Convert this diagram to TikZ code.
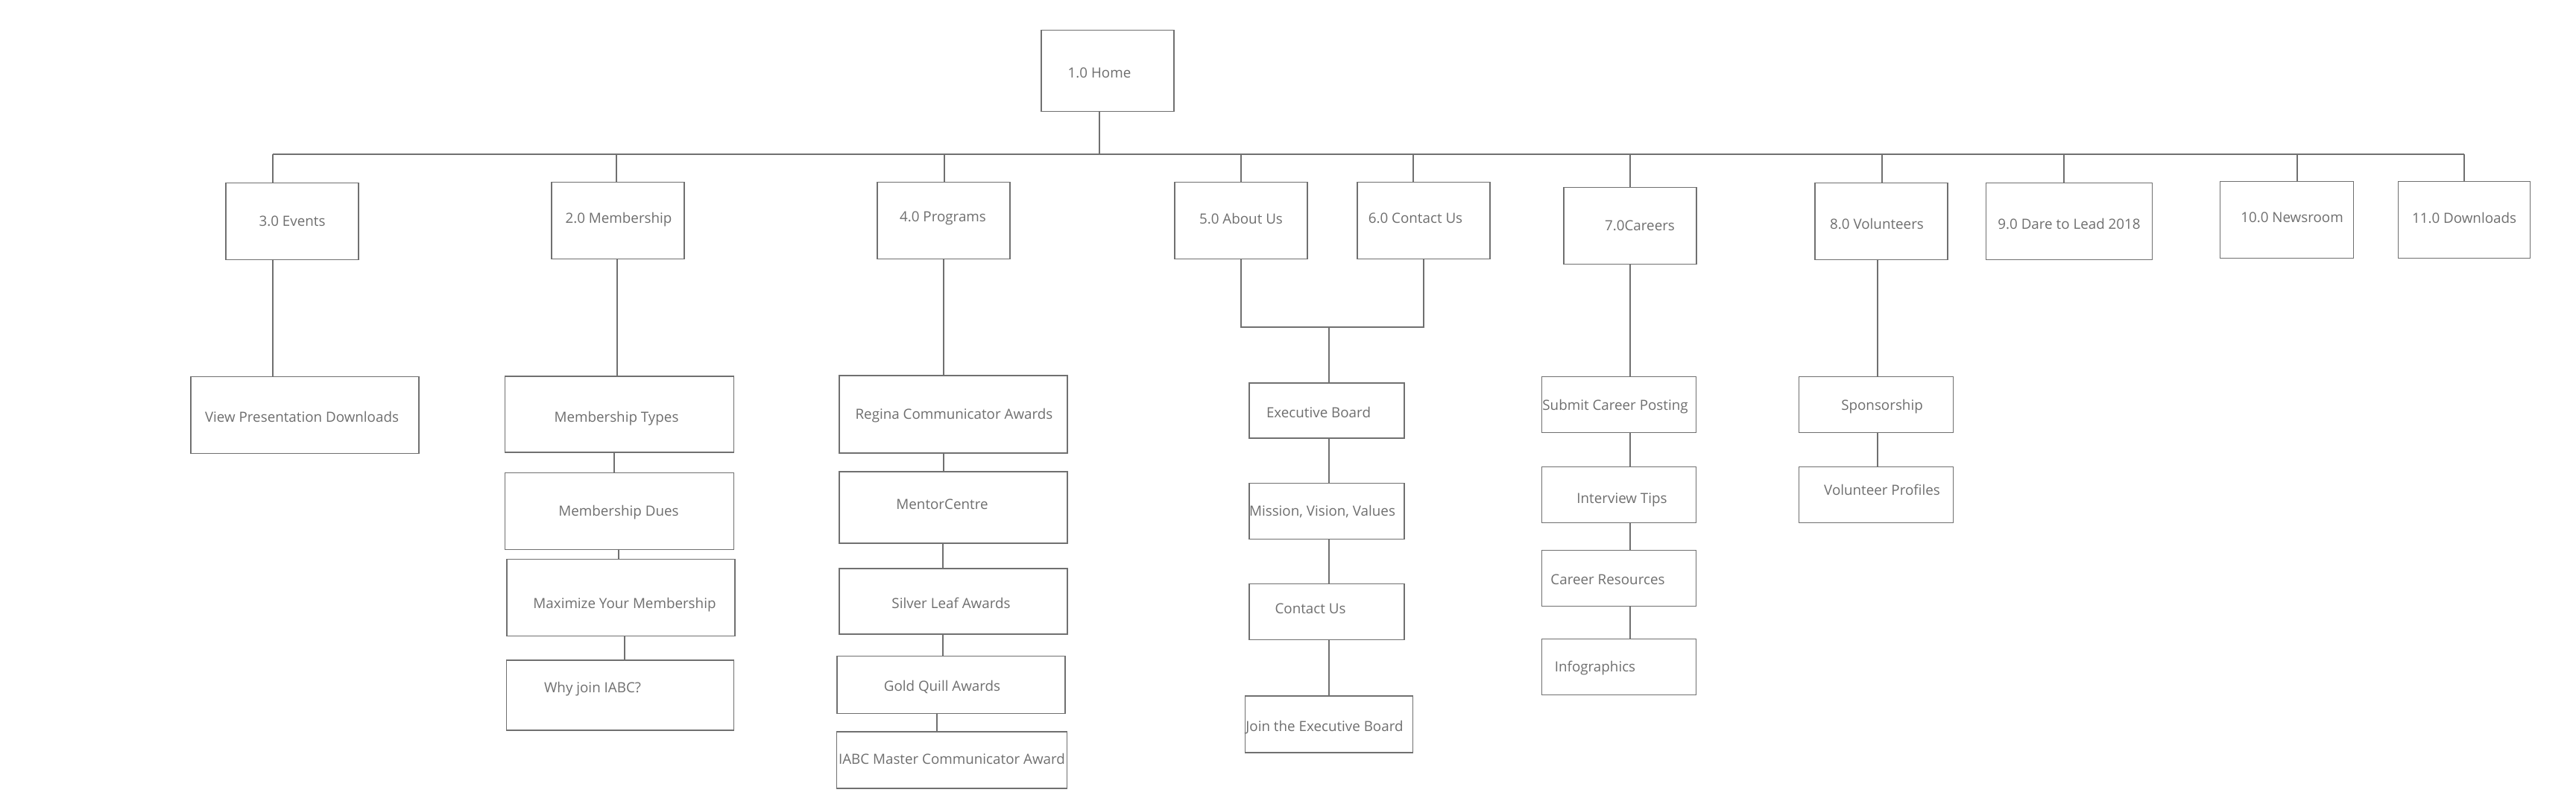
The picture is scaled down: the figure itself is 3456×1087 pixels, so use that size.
\documentclass[tikz,border=0pt]{standalone}
\usepackage{fontspec}
\setmainfont{Open Sans}
\usepackage{tikz}

\definecolor{boxline}{HTML}{707070}
\definecolor{boxtext}{HTML}{6E6E6E}

\tikzset{
  page/.style 2 args={draw=boxline, line width=0.65pt, inner sep=0pt, minimum width=#1, minimum height=#2},
  lbl/.style={text=boxtext, font=\fontsize{10.7pt}{12pt}\selectfont, inner sep=0pt},
  link/.style={draw=boxline, line width=0.65pt}
}

\begin{document}
\begin{tikzpicture}[x=0.02cm, y=-0.02cm]

   \useasboundingbox (0,0) rectangle (3456,1087);

   % top level
   \node[page={3.56cm}{2.18cm}, label={[lbl,shift={(-11,3)}]center:1.0 Home}] (home) at (1486,95) {};

   \node[page={3.56cm}{2.06cm}, label={[lbl]center:3.0 Events}] (events) at (392,297) {};
   \node[page={3.56cm}{2.06cm}, label={[lbl,shift={(1,-1)}]center:2.0 Membership}] (member) at (829,296) {};
   \node[page={3.56cm}{2.06cm}, label={[lbl,shift={(-1,-3)}]center:4.0 Programs}] (programs) at (1266,296) {};
   \node[page={3.56cm}{2.06cm}, label={[lbl,shift={(0,-3)}]center:5.0 About Us}] (about) at (1665,296) {};
   \node[page={3.56cm}{2.06cm}, label={[lbl,shift={(-11,-3)}]center:6.0 Contact Us}] (contact) at (1910,296) {};
   \node[page={3.56cm}{2.06cm}, label={[lbl,shift={(13,0)}]center:7.0Careers}] (careers) at (2187,303) {};
   \node[page={3.56cm}{2.06cm}, label={[lbl,shift={(-6,3)}]center:8.0 Volunteers}] (volunteers) at (2524,297) {};
   \node[page={4.46cm}{2.06cm}, label={[lbl,shift={(0,3)}]center:9.0 Dare to Lead 2018}] (dare) at (2776,297) {};
   \node[page={3.58cm}{2.06cm}, label={[lbl,shift={(7,-3)}]center:10.0 Newsroom}] (newsroom) at (3068,295) {};
   \node[page={3.54cm}{2.06cm}, label={[lbl,shift={(0,-3)}]center:11.0 Downloads}] (downloads) at (3306,295) {};

   % events
   \node[page={6.12cm}{2.06cm}, label={[lbl,shift={(-4,2)}]center:View Presentation Downloads}] (view) at (409,557) {};

   % membership
   \node[page={6.14cm}{2.04cm}, label={[lbl,shift={(-4,6)}]center:Membership Types}] (mtypes) at (831,556) {};
   \node[page={6.14cm}{2.06cm}, label={[lbl,shift={(-1,2)}]center:Membership Dues}] (mdues) at (831,686) {};
   \node[page={6.12cm}{2.06cm}, label={[lbl,shift={(5,10)}]center:Maximize Your Membership}] (maxim) at (833,802) {};
   \node[page={6.10cm}{1.88cm}, label={[lbl,shift={(-37,-8)}]center:Why join IABC?}] (why) at (832,933) {};

   % programs
   \node[page={6.12cm}{2.08cm}, label={[lbl,shift={(1,2)}]center:Regina Communicator Awards}] (regina) at (1279,556) {};
   \node[page={6.12cm}{1.92cm}, label={[lbl,shift={(-15,-4)}]center:MentorCentre}] (mentor) at (1279,681) {};
   \node[page={6.12cm}{1.76cm}, label={[lbl,shift={(-3,2)}]center:Silver Leaf Awards}] (silver) at (1279,807) {};
   \node[page={6.12cm}{1.54cm}, label={[lbl,shift={(-12,3)}]center:Gold Quill Awards}] (gold) at (1276,919) {};
   \node[page={6.18cm}{1.52cm}, label={[lbl,shift={(0,-2)}]center:IABC Master Communicator Award}] (iabc) at (1277,1020) {};

   % about us / contact us
   \node[page={4.16cm}{1.48cm}, label={[lbl,shift={(-11,2)}]center:Executive Board}] (exec) at (1780,551) {};
   \node[page={4.16cm}{1.50cm}, label={[lbl,shift={(-6,1)}]center:Mission, Vision, Values}] (mission) at (1780,686) {};
   \node[page={4.16cm}{1.50cm}, label={[lbl,shift={(-22,-4)}]center:Contact Us}] (contactus) at (1780,821) {};
   \node[page={4.50cm}{1.52cm}, label={[lbl,shift={(-6,4)}]center:Join the Executive Board}] (join) at (1783,972) {};

   % careers
   \node[page={4.14cm}{1.50cm}, label={[lbl,shift={(-5,3)}]center:Submit Career Posting}] (submit) at (2172,543) {};
   \node[page={4.14cm}{1.50cm}, label={[lbl,shift={(4,7)}]center:Interview Tips}] (interview) at (2172,664) {};
   \node[page={4.14cm}{1.50cm}, label={[lbl,shift={(-15,2)}]center:Career Resources}] (resources) at (2172,776) {};
   \node[page={4.14cm}{1.50cm}, label={[lbl,shift={(-32,2)}]center:Infographics}] (infographics) at (2172,895) {};

   % volunteers
   \node[page={4.14cm}{1.50cm}, label={[lbl,shift={(8,3)}]center:Sponsorship}] (sponsor) at (2517,543) {};
   \node[page={4.14cm}{1.50cm}, label={[lbl,shift={(8,-7)}]center:Volunteer Profiles}] (vprofiles) at (2517,664) {};

   % bus
   \coordinate (busL) at (366,207);
   \coordinate (busR) at (3306,207);
   \coordinate (homebus) at (1475,207);
   \draw[link] (busL) -- (busR);
   \draw[link] (home.south -| homebus) -- (homebus);

   \foreach \n/\x in {events/366, member/827, programs/1267, about/1665, contact/1896,
                      careers/2187, volunteers/2525, dare/2769, newsroom/3082, downloads/3306}
   {
     \coordinate (bus-\n) at (\x,207);
     \draw[link] (bus-\n) -- (bus-\n |- \n.north);
   }

   \foreach \a/\b/\x in {events/view/366,
                         member/mtypes/828, mtypes/mdues/824, mdues/maxim/830, maxim/why/838,
                         programs/regina/1266, regina/mentor/1266, mentor/silver/1265, silver/gold/1265, gold/iabc/1257,
                         exec/mission/1783, mission/contactus/1783, contactus/join/1783,
                         careers/submit/2187, submit/interview/2187, interview/resources/2187, resources/infographics/2187,
                         volunteers/sponsor/2519, sponsor/vprofiles/2519}
   {
     \coordinate (col-\b) at (\x,0);
     \draw[link] (\a.south -| col-\b) -- (\b.north -| col-\b);
   }

   % about us and contact us share one branch
   \coordinate (aboutjoin) at (1783,439);
   \draw[link] (about.south) -- (about.south |- aboutjoin) -| (contact.south);
   \draw[link] (aboutjoin) -- (aboutjoin |- exec.north);

\end{tikzpicture}
\end{document}
